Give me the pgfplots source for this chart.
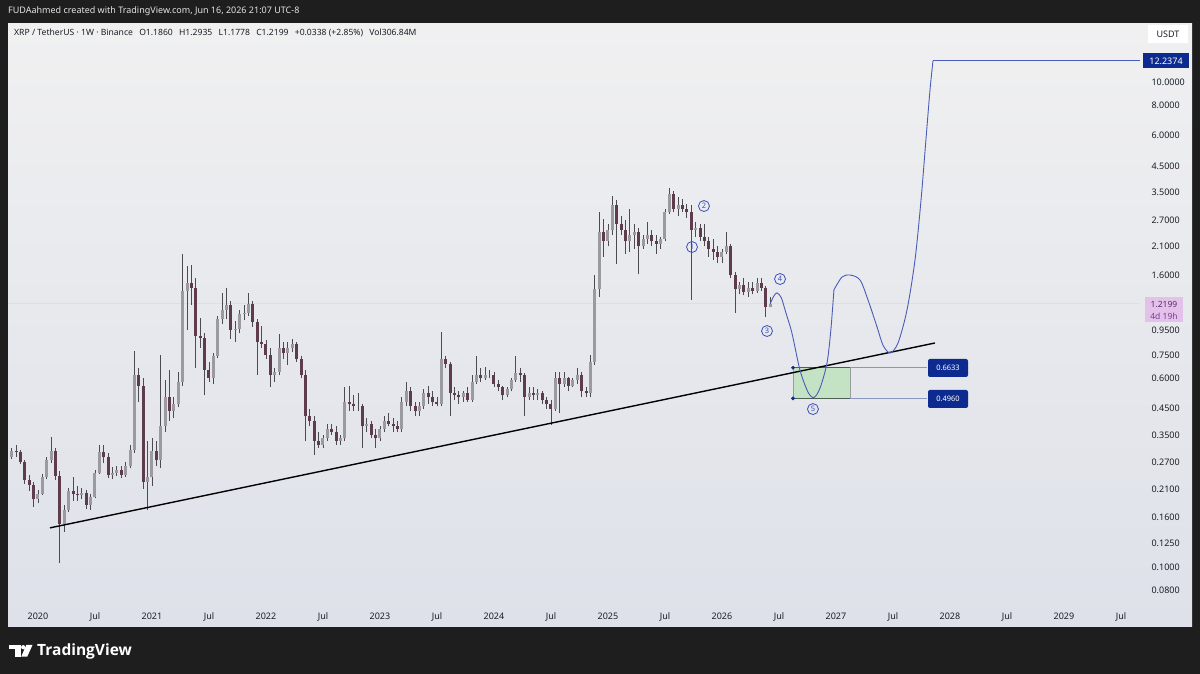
\documentclass[border=0pt]{standalone}
\usepackage{fontspec}
\setmainfont{Noto Sans}
\newfontfamily\tvfont{Open Sans}
\usepackage{pgfplots}
\usepackage{pgfplotstable}
\pgfplotsset{compat=1.18}

\definecolor{tvdark}{HTML}{1E1E1E}
\definecolor{bgtop}{HTML}{F0F0F1}
\definecolor{bgbot}{HTML}{DEE1E9}
\definecolor{wickc}{HTML}{4C4C50}
\definecolor{upc}{HTML}{9A9AA0}
\definecolor{downc}{HTML}{5E3C4C}
\definecolor{projc}{HTML}{4A5CB8}
\definecolor{navy}{HTML}{0D2B8E}
\definecolor{numc}{HTML}{3B4FB5}
\definecolor{boxg}{HTML}{C4E2C4}
\definecolor{boxe}{HTML}{4F5E55}
\definecolor{linkc}{HTML}{8A95C0}
\definecolor{pinkc}{HTML}{E3C1EA}
\definecolor{pinkt}{HTML}{7A3E8E}
\definecolor{txt}{HTML}{1A1D26}

% XRP/USDT, 2-week candles: time (years), open, high, low, close
\pgfplotstableread{
t o h l c
2019.769 0.285 0.310 0.280 0.300
2019.808 0.300 0.318 0.285 0.298
2019.846 0.298 0.305 0.265 0.270
2019.885 0.270 0.275 0.220 0.228
2019.923 0.228 0.240 0.205 0.218
2019.962 0.218 0.225 0.176 0.190
2020.000 0.190 0.208 0.184 0.200
2020.038 0.200 0.242 0.198 0.236
2020.077 0.236 0.285 0.230 0.275
2020.115 0.275 0.345 0.268 0.300
2020.154 0.300 0.310 0.228 0.238
2020.192 0.238 0.248 0.104 0.150
2020.231 0.150 0.180 0.140 0.172
2020.269 0.172 0.212 0.168 0.205
2020.308 0.205 0.235 0.188 0.200
2020.346 0.200 0.215 0.188 0.198
2020.385 0.198 0.212 0.190 0.202
2020.423 0.202 0.208 0.174 0.180
2020.462 0.180 0.200 0.172 0.195
2020.500 0.195 0.252 0.192 0.245
2020.538 0.245 0.320 0.242 0.298
2020.577 0.298 0.318 0.268 0.285
2020.615 0.285 0.295 0.232 0.240
2020.654 0.240 0.258 0.230 0.245
2020.692 0.245 0.260 0.238 0.252
2020.731 0.252 0.262 0.232 0.240
2020.769 0.240 0.272 0.235 0.262
2020.808 0.262 0.320 0.255 0.305
2020.846 0.305 0.780 0.295 0.620
2020.885 0.620 0.660 0.480 0.560
2020.923 0.560 0.600 0.210 0.225
2020.962 0.225 0.330 0.172 0.235
2021.000 0.235 0.340 0.215 0.300
2021.038 0.300 0.330 0.262 0.275
2021.077 0.275 0.750 0.255 0.380
2021.115 0.380 0.590 0.360 0.500
2021.154 0.500 0.650 0.400 0.440
2021.192 0.440 0.500 0.410 0.470
2021.231 0.470 0.640 0.455 0.580
2021.269 0.580 1.960 0.560 1.380
2021.308 1.380 1.750 0.950 1.480
2021.346 1.480 1.760 1.200 1.420
2021.385 1.420 1.550 0.660 0.900
2021.423 0.900 1.060 0.800 0.880
2021.462 0.880 0.920 0.510 0.650
2021.500 0.650 0.700 0.580 0.600
2021.538 0.600 0.760 0.570 0.740
2021.577 0.740 1.080 0.730 1.050
2021.615 1.050 1.350 1.000 1.150
2021.654 1.150 1.410 1.050 1.200
2021.692 1.200 1.250 0.870 0.950
2021.731 0.950 1.030 0.850 0.960
2021.769 0.960 1.150 0.920 1.100
2021.808 1.100 1.200 1.040 1.120
2021.846 1.120 1.350 1.080 1.220
2021.885 1.220 1.250 0.980 1.020
2021.923 1.020 1.050 0.620 0.850
2021.962 0.850 0.990 0.800 0.830
2022.000 0.830 0.860 0.720 0.750
2022.038 0.750 0.800 0.550 0.620
2022.077 0.620 0.660 0.580 0.640
2022.115 0.640 0.910 0.620 0.800
2022.154 0.800 0.850 0.720 0.760
2022.192 0.760 0.850 0.680 0.800
2022.231 0.800 0.870 0.770 0.830
2022.269 0.830 0.850 0.700 0.720
2022.308 0.720 0.740 0.600 0.620
2022.346 0.620 0.650 0.330 0.420
2022.385 0.420 0.450 0.380 0.400
2022.423 0.400 0.420 0.290 0.330
2022.462 0.330 0.360 0.310 0.320
2022.500 0.320 0.350 0.310 0.340
2022.538 0.340 0.390 0.330 0.370
2022.577 0.370 0.390 0.350 0.360
2022.615 0.360 0.380 0.320 0.330
2022.654 0.330 0.350 0.320 0.340
2022.692 0.340 0.550 0.330 0.480
2022.731 0.480 0.560 0.440 0.470
2022.769 0.470 0.510 0.440 0.460
2022.808 0.460 0.520 0.440 0.460
2022.846 0.460 0.470 0.310 0.380
2022.885 0.380 0.410 0.360 0.390
2022.923 0.390 0.400 0.340 0.350
2022.962 0.350 0.370 0.310 0.340
2023.000 0.340 0.380 0.330 0.370
2023.038 0.370 0.420 0.360 0.400
2023.077 0.400 0.430 0.380 0.390
2023.115 0.390 0.410 0.360 0.380
2023.154 0.380 0.400 0.360 0.370
2023.192 0.370 0.500 0.360 0.480
2023.231 0.480 0.580 0.460 0.530
2023.269 0.530 0.550 0.440 0.460
2023.308 0.460 0.480 0.420 0.440
2023.346 0.440 0.480 0.420 0.460
2023.385 0.460 0.540 0.450 0.520
2023.423 0.520 0.560 0.470 0.500
2023.462 0.500 0.530 0.460 0.480
2023.500 0.480 0.500 0.460 0.470
2023.538 0.470 0.930 0.460 0.720
2023.577 0.720 0.740 0.660 0.690
2023.615 0.690 0.700 0.420 0.520
2023.654 0.520 0.550 0.490 0.510
2023.692 0.510 0.530 0.470 0.500
2023.731 0.500 0.530 0.480 0.520
2023.769 0.520 0.550 0.480 0.490
2023.808 0.490 0.620 0.480 0.580
2023.846 0.580 0.740 0.570 0.620
2023.885 0.620 0.660 0.580 0.600
2023.923 0.600 0.670 0.590 0.620
2023.962 0.620 0.650 0.600 0.620
2024.000 0.620 0.640 0.550 0.570
2024.038 0.570 0.590 0.530 0.550
2024.077 0.550 0.560 0.490 0.510
2024.115 0.510 0.550 0.500 0.540
2024.154 0.540 0.600 0.530 0.590
2024.192 0.590 0.740 0.580 0.630
2024.231 0.630 0.660 0.580 0.620
2024.269 0.620 0.630 0.420 0.500
2024.308 0.500 0.550 0.490 0.520
2024.346 0.520 0.550 0.490 0.510
2024.385 0.510 0.540 0.490 0.520
2024.423 0.520 0.530 0.470 0.490
2024.462 0.490 0.500 0.450 0.470
2024.500 0.470 0.490 0.385 0.450
2024.538 0.450 0.640 0.440 0.600
2024.577 0.600 0.640 0.430 0.570
2024.615 0.570 0.640 0.550 0.600
2024.654 0.600 0.610 0.530 0.560
2024.692 0.560 0.600 0.550 0.590
2024.731 0.590 0.660 0.570 0.620
2024.769 0.620 0.640 0.500 0.530
2024.808 0.530 0.550 0.500 0.520
2024.846 0.520 0.750 0.500 0.700
2024.885 0.700 1.600 0.680 1.400
2024.923 1.400 2.900 1.300 2.400
2024.962 2.400 2.730 1.900 2.200
2025.000 2.200 2.600 2.100 2.450
2025.038 2.450 3.400 2.350 3.100
2025.077 3.100 3.250 1.770 2.600
2025.115 2.600 2.800 2.350 2.450
2025.154 2.450 2.700 1.950 2.200
2025.192 2.200 3.000 2.000 2.350
2025.231 2.350 2.600 2.050 2.400
2025.269 2.400 2.500 1.610 2.100
2025.308 2.100 2.350 2.050 2.250
2025.346 2.250 2.650 2.150 2.350
2025.385 2.350 2.450 2.100 2.200
2025.423 2.200 2.350 1.950 2.150
2025.462 2.150 2.300 2.050 2.250
2025.500 2.250 3.000 2.200 2.900
2025.538 2.900 3.660 2.850 3.450
2025.577 3.450 3.550 2.900 3.000
2025.615 3.000 3.350 2.800 3.100
2025.654 3.100 3.300 2.900 3.000
2025.692 3.000 3.150 2.750 2.900
2025.731 2.900 3.100 1.260 2.450
2025.769 2.450 2.650 2.300 2.500
2025.808 2.500 2.600 2.200 2.300
2025.846 2.300 2.600 2.100 2.200
2025.885 2.200 2.300 1.900 2.050
2025.923 2.050 2.250 1.850 2.000
2025.962 2.000 2.100 1.800 1.900
2026.000 1.900 2.050 1.800 2.000
2026.038 2.000 2.400 1.950 2.100
2026.077 2.100 2.150 1.550 1.600
2026.115 1.600 1.650 1.120 1.400
2026.154 1.400 1.500 1.330 1.450
2026.192 1.450 1.550 1.320 1.360
2026.231 1.360 1.500 1.300 1.420
2026.269 1.420 1.500 1.330 1.380
2026.308 1.380 1.550 1.350 1.480
2026.346 1.480 1.550 1.380 1.420
2026.385 1.420 1.440 1.070 1.186
2026.423 1.186 1.2935 1.1778 1.2199
}\candles

\begin{document}
\begin{tikzpicture}[x=1pt,y=1pt]
\useasboundingbox (0,0) rectangle (1200,674);
\fill[tvdark] (0,0) rectangle (1200,674);
\shade[top color=bgtop, bottom color=bgbot] (8,47) rectangle (1192,650);

% header and legend line
\node[anchor=west, inner sep=0pt, text=white!90!black, font=\fontsize{9}{10}\selectfont]
  at (8,663) {FUDAahmed created with TradingView.com, Jun 16, 2026 21:07 UTC-8};
\node[anchor=west, inner sep=0pt, text=txt, font=\fontsize{8.6}{10}\selectfont]
  at (14,641) {XRP / TetherUS · 1W · Binance\hspace{4pt} O1.1860\hspace{4pt} H1.2935\hspace{4pt} L1.1778\hspace{4pt} C1.2199\hspace{4pt} +0.0338 (+2.85\%)\hspace{4pt} Vol306.84M};

\begin{axis}[
    at={(8pt,69pt)}, anchor=south west,
    scale only axis, width=1132pt, height=580pt,
    ymode=log,
    xmin=2019.737, xmax=2029.667,
    ymin=0.06972, ymax=17.18,
    axis line style={draw=none},
    major tick length=0pt, minor tick num=0,
    clip=false,
    xtick={2020,2020.5,2021,2021.5,2022,2022.5,2023,2023.5,2024,2024.5,2025,2025.5,2026,2026.5,2027,2027.5,2028,2028.5,2029,2029.5},
    xticklabels={\textbf{2020},Jul,\textbf{2021},Jul,\textbf{2022},Jul,\textbf{2023},Jul,\textbf{2024},Jul,\textbf{2025},Jul,\textbf{2026},Jul,\textbf{2027},Jul,\textbf{2028},Jul,\textbf{2029},Jul},
    xticklabel style={font=\fontsize{9}{10}\selectfont, text=txt, yshift=-4pt},
    ytick={0.08,0.1,0.125,0.16,0.21,0.27,0.35,0.45,0.6,0.75,0.95,1.6,2.1,2.7,3.5,4.5,6,8,10,12},
    yticklabels={0.0800,0.1000,0.1250,0.1600,0.2100,0.2700,0.3500,0.4500,0.6000,0.7500,0.9500,1.6000,2.1000,2.7000,3.5000,4.5000,6.0000,8.0000,10.0000,12.0000},
    yticklabel pos=right,
    yticklabel style={font=\fontsize{9}{10}\selectfont, text=txt, anchor=west, xshift=8pt},
]
% faint last-price line
\addplot[black, opacity=0.04, line width=0.6pt, forget plot] coordinates {(2019.737,1.2199) (2029.667,1.2199)};

% wicks
\addplot[draw=none, forget plot, error bars/.cd, y dir=plus, y explicit, error mark=none,
  error bar style={line width=0.8pt, draw=wickc, solid}]
  table[x=t, y=l, y error plus expr=\thisrow{h}-\thisrow{l}] {\candles};
% rising bodies
\addplot[draw=none, forget plot, unbounded coords=discard, error bars/.cd, y dir=plus, y explicit, error mark=none,
  error bar style={line width=3pt, draw=upc, solid}]
  table[x=t, y expr={\thisrow{c}>=\thisrow{o} ? \thisrow{o} : nan}, y error plus expr=\thisrow{c}-\thisrow{o}] {\candles};
% falling bodies
\addplot[draw=none, forget plot, unbounded coords=discard, error bars/.cd, y dir=plus, y explicit, error mark=none,
  error bar style={line width=3pt, draw=downc, solid}]
  table[x=t, y expr={\thisrow{c}<\thisrow{o} ? \thisrow{c} : nan}, y error plus expr=\thisrow{o}-\thisrow{c}] {\candles};

% target zone
\addplot[fill=boxg, draw=boxe!60, line width=0.6pt] coordinates {(2026.623,0.4960) (2027.123,0.4960) (2027.123,0.6633) (2026.623,0.6633)} --cycle;
\addplot[boxe, line width=1pt] coordinates {(2026.623,0.6633) (2027.123,0.6633)};
\addplot[boxe, line width=1pt] coordinates {(2026.623,0.4960) (2027.123,0.4960)};
\addplot[linkc, line width=0.8pt] coordinates {(2027.123,0.6633) (2027.80,0.6633)};
\addplot[linkc, line width=0.8pt] coordinates {(2027.123,0.4960) (2027.80,0.4960)};
\addplot[only marks, mark=*, mark size=1.7pt, navy] coordinates {(2026.623,0.6633) (2026.623,0.4960)};

% support trend line
\addplot[black, line width=1.4pt] coordinates {(2020.105,0.145) (2027.868,0.839)};

% projected path
\addplot[projc, line width=0.9pt, smooth] coordinates {
 (2026.423,1.22) (2026.455,1.31) (2026.482,1.35) (2026.520,1.29) (2026.560,1.12)
 (2026.614,0.92) (2026.684,0.649) (2026.754,0.527) (2026.807,0.500) (2026.860,0.547)
 (2026.921,0.693) (2026.955,0.95) (2026.982,1.39)};
\addplot[projc, line width=0.9pt, smooth] coordinates {
 (2026.982,1.39) (2027.053,1.570) (2027.123,1.600) (2027.211,1.526) (2027.281,1.262)
 (2027.360,0.977) (2027.412,0.823) (2027.474,0.763) (2027.544,0.839) (2027.623,1.148)
 (2027.693,1.845) (2027.746,3.26) (2027.789,5.78) (2027.825,9.3) (2027.851,12.2374)};
\addplot[projc, line width=0.9pt] coordinates {(2027.851,12.2374) (2029.667,12.2374)};

% wave labels
\tikzset{wave/.style={circle, draw=numc, text=numc, line width=0.8pt, inner sep=0pt, minimum size=11pt, font=\fontsize{7.5}{8}\selectfont}}
\node[wave] at (axis cs:2025.737,2.087) {1};
\node[wave] at (axis cs:2025.842,3.08) {2};
\node[wave] at (axis cs:2026.395,0.940) {3};
\node[wave] at (axis cs:2026.509,1.54) {4};
\node[wave] at (axis cs:2026.798,0.448) {5};
\end{axis}

% price scale badges
\node[fill=white, text=txt, minimum width=40pt, minimum height=18pt, inner sep=0pt, font=\fontsize{9}{10}\selectfont] at (1168,640) {USDT};
\node[fill=navy, text=white, minimum width=46pt, minimum height=15pt, inner sep=0pt, font=\fontsize{9}{10}\selectfont] at (1166,613) {12.2374};
\fill[pinkc] (1145,352) rectangle (1183,377);
\node[text=pinkt!70!black, inner sep=0pt, font=\fontsize{8.5}{9}\selectfont] at (1164,370) {1.2199};
\node[text=pinkt, inner sep=0pt, font=\fontsize{8.5}{9}\selectfont] at (1164,358) {4d 19h};
\node[fill=navy, text=white, rounded corners=2pt, minimum width=40pt, minimum height=18pt, inner sep=0pt, font=\bfseries\fontsize{7.5}{8}\selectfont] at (948,306) {0.6633};
\node[fill=navy, text=white, rounded corners=2pt, minimum width=40pt, minimum height=18pt, inner sep=0pt, font=\bfseries\fontsize{7.5}{8}\selectfont] at (948,275) {0.4960};

% TradingView logo
\fill[white] (9.3,29) rectangle (20.7,24.7);
\fill[white] (15,29) rectangle (20.7,17.3);
\fill[white] (23.2,26.8) circle (2.1);
\fill[white] (26.3,29) -- (32.5,29) -- (27.2,17.3) -- (21.2,17.3) -- cycle;
\node[anchor=west, inner sep=0pt, text=white, font=\tvfont\bfseries\fontsize{15.5}{16}\selectfont] at (37,23) {TradingView};
\end{tikzpicture}
\end{document}
